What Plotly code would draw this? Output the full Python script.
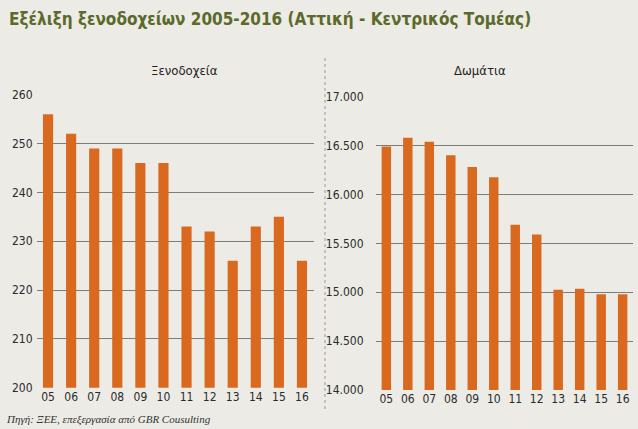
import plotly.graph_objects as go

years = ["05", "06", "07", "08", "09", "10", "11", "12", "13", "14", "15", "16"]
hotels = [256, 252, 249, 249, 246, 246, 233, 232, 226, 233, 235, 226]
rooms = [16490, 16580, 16540, 16400, 16280, 16175, 15690, 15590, 15025, 15035, 14980, 14980]

title_text = "Εξέλιξη ξενοδοχείων 2005-2016 (Αττική - Κεντρικός Τομέας)"
left_title = "Ξενοδοχεία"
right_title = "Δωμάτια"
source_text = "Πηγή: ΞΕΕ, επεξεργασία από GBR Cousulting"

W, H = 638, 429
BG = "#ecebe5"
BAR = "#d9691f"
GRID = "#7d7d7a"
COND = "DejaVu Sans Condensed, Roboto, sans-serif"

def px(x):
    return x / W

def py(y):
    return 1 - y / H

fig = go.Figure()
fig.add_trace(go.Bar(x=years, y=hotels, marker=dict(color=BAR, line=dict(width=0)),
                     xaxis="x", yaxis="y", showlegend=False))
fig.add_trace(go.Bar(x=years, y=rooms, marker=dict(color=BAR, line=dict(width=0)),
                     xaxis="x2", yaxis="y2", showlegend=False))

tickfont = dict(family=COND, size=12, color="#2b2b2b")

fig.update_layout(
    width=W, height=H,
    margin=dict(l=0, r=0, t=0, b=0, autoexpand=False),
    paper_bgcolor=BG, plot_bgcolor=BG,
    separators=",.",
    bargap=0.56,
    xaxis=dict(domain=[px(36.5), px(313.5)], anchor="y", showgrid=False,
               showline=False, ticks="", tickfont=tickfont, automargin=False),
    yaxis=dict(domain=[py(387.7), py(94.7)], anchor="x", range=[200, 260],
               dtick=10, showgrid=True, gridcolor=GRID, gridwidth=1,
               zeroline=False, showline=False, ticks="", tickfont=tickfont,
               ticklabelstandoff=3, automargin=False),
    xaxis2=dict(domain=[px(375.6), px(633.4)], anchor="y2", showgrid=False,
                showline=False, ticks="", tickfont=tickfont, automargin=False),
    yaxis2=dict(domain=[py(390), py(96.7)], anchor="x2", range=[14000, 17000],
                dtick=500, tickformat=",d", showgrid=True, gridcolor=GRID,
                gridwidth=1, zeroline=False, showline=False, ticks="",
                tickfont=tickfont, ticklabelstandoff=11, automargin=False),
)

fig.add_annotation(text="<b>" + title_text + "</b>", xref="paper", yref="paper",
                   x=px(7), y=py(19), xanchor="left", yanchor="middle",
                   showarrow=False,
                   font=dict(family=COND, size=17, color="#5b6a2b"))
fig.add_annotation(text=left_title, xref="paper", yref="paper",
                   x=px(184), y=py(70), xanchor="center", yanchor="middle",
                   showarrow=False, font=dict(family=COND, size=13, color="#222"))
fig.add_annotation(text=right_title, xref="paper", yref="paper",
                   x=px(480), y=py(70), xanchor="center", yanchor="middle",
                   showarrow=False, font=dict(family=COND, size=13, color="#222"))
fig.add_annotation(text="<i>" + source_text + "</i>", xref="paper", yref="paper",
                   x=px(4), y=py(419), xanchor="left", yanchor="middle",
                   showarrow=False,
                   font=dict(family="Liberation Serif, DejaVu Serif, serif", size=11, color="#333"))

fig.add_shape(type="line", xref="paper", yref="paper",
              x0=px(325), x1=px(325), y0=py(58), y1=py(410),
              line=dict(color="#9a9a96", width=1, dash="dot"))

fig.write_html("out.html",
               config={"displayModeBar": False},
               post_script="document.body.style.margin='0';"
                           "document.body.style.background='#ecebe5';"
                           "document.body.style.overflow='hidden';")
